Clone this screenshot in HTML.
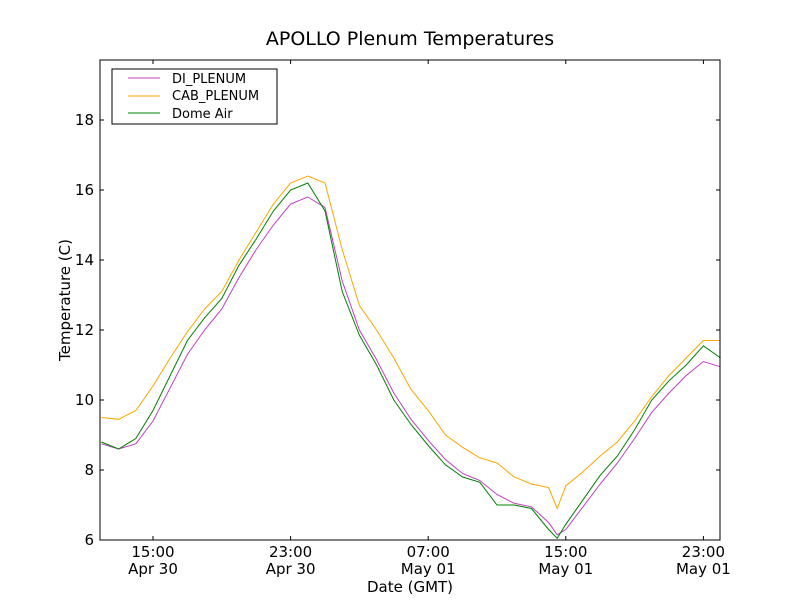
<!DOCTYPE html>
<html><head><meta charset="utf-8"><style>
body{margin:0;background:#fff;font-family:"Liberation Sans","DejaVu Sans",sans-serif}
svg text{font-family:"DejaVu Sans","Liberation Sans",sans-serif}
</style></head><body>
<svg id="chart" width="800" height="600" xmlns="http://www.w3.org/2000/svg">
<rect width="800" height="600" fill="#fff"/>
<text x="410" y="45" font-size="19" text-anchor="middle">APOLLO Plenum Temperatures</text>
<g id="series"></g>
<rect x="100" y="60" width="620" height="480" fill="none" stroke="#000" stroke-width="1"/>
<g id="axes"></g>
<text x="410" y="592" font-size="15" text-anchor="middle">Date (GMT)</text>
<text transform="translate(70,300) rotate(-90)" font-size="15" text-anchor="middle">Temperature (C)</text>
<g>
<rect x="112" y="69" width="165" height="55" fill="#fff" stroke="#000"/>
<line x1="128" y1="78" x2="160" y2="78" stroke="#bf40bf"/>
<text x="172" y="83" font-size="13">DI_PLENUM</text>
<line x1="128" y1="96" x2="160" y2="96" stroke="#ffa500"/>
<text x="172" y="100" font-size="13">CAB_PLENUM</text>
<line x1="128" y1="113" x2="160" y2="113" stroke="#008000"/>
<text x="172" y="118" font-size="13">Dome Air</text>
</g>
</svg>
<script>
// hours since 15:00 Apr 30
const hours=[-3,-2,-1,0,1,2,3,4,5,6,7,8,9,10,11,12,13,14,15,16,17,18,19,20,21,22,23,23.5,24,25,26,27,28,29,30,31,32,33];
const domeAir=[8.8,8.6,8.9,9.7,10.7,11.7,12.35,12.9,13.85,14.6,15.4,16.0,16.2,15.4,13.1,11.85,11.0,10.0,9.3,8.7,8.15,7.8,7.65,7.0,7.0,6.9,6.3,6.05,6.45,7.15,7.85,8.4,9.15,10.0,10.55,11.0,11.55,11.2];
const diPlenum=[8.75,8.6,8.75,9.4,10.35,11.3,12.0,12.6,13.5,14.3,15.0,15.6,15.8,15.5,13.4,12.0,11.15,10.2,9.45,8.85,8.3,7.9,7.7,7.3,7.05,6.95,6.5,6.15,6.3,6.95,7.6,8.2,8.9,9.65,10.2,10.7,11.1,10.95];
const cabPlenum=[9.5,9.45,9.7,10.4,11.2,11.95,12.6,13.1,14.0,14.8,15.6,16.2,16.4,16.2,14.3,12.7,12.0,11.2,10.3,9.7,9.0,8.65,8.35,8.2,7.8,7.6,7.5,6.9,7.55,7.95,8.4,8.8,9.4,10.1,10.7,11.2,11.7,11.7];
const xTickHours=[0,8,16,24,32];
const xTickTop=["15:00","23:00","07:00","15:00","23:00"];
const xTickBottom=["Apr 30","Apr 30","May 01","May 01","May 01"];
const yTicks=[6,8,10,12,14,16,18];
const ns="http://www.w3.org/2000/svg";
const X=h=>153+17.2*h;
const Y=v=>540-35*(v-6);
const sg=document.getElementById('series');
function line(vals,color,name){
  const p=document.createElementNS(ns,'polyline');
  p.setAttribute('points',hours.map((h,i)=>X(h).toFixed(1)+','+Y(vals[i]).toFixed(1)).join(' '));
  p.setAttribute('fill','none');p.setAttribute('stroke',color);p.setAttribute('stroke-width','1');
  
  
  sg.appendChild(p);
}
line(diPlenum,'#bf40bf','di-plenum-line');
line(cabPlenum,'#ffa500','cab-plenum-line');
line(domeAir,'#008000','dome-air-line');
const ax=document.getElementById('axes');
function mk(tag,attrs){const e=document.createElementNS(ns,tag);for(const k in attrs)e.setAttribute(k,attrs[k]);ax.appendChild(e);return e;}
xTickHours.forEach((h,i)=>{
  const x=X(h);
  const t1=mk('line',{x1:x,y1:540,x2:x,y2:536,stroke:'#000'});
  
  
  const t2=mk('line',{x1:x,y1:60,x2:x,y2:64,stroke:'#000'});
  
  
  const a=mk('text',{x:x,y:557,'font-size':15,'text-anchor':'middle'});a.textContent=xTickTop[i];
  
  
  const b=mk('text',{x:x,y:574,'font-size':15,'text-anchor':'middle'});b.textContent=xTickBottom[i];
  
  
});
yTicks.forEach(v=>{
  const y=Y(v);
  const t1=mk('line',{x1:100,y1:y,x2:104,y2:y,stroke:'#000'});
  
  
  const t2=mk('line',{x1:716,y1:y,x2:720,y2:y,stroke:'#000'});
  
  
  const t=mk('text',{x:94,y:y+5,'font-size':15,'text-anchor':'end'});t.textContent=v;
  
  
});
</script>
</body></html>
